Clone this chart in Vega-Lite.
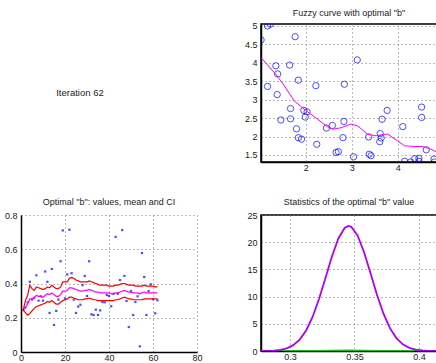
{
"$schema": "https://vega.github.io/schema/vega-lite/v6.json",
"padding": {"left": 4, "top": 8, "right": 0, "bottom": 0},
"background": "white",
"config": {
  "font": "Liberation Sans",
  "view": {"stroke": null},
  "axis": {"domainColor": "black", "domainWidth": 1.5, "ticks": false, "labelFontSize": 9, "labelColor": "#222", "labelPadding": 4, "gridColor": "#777", "gridDash": [1, 3], "gridWidth": 1, "title": null, "labelFlush": false, "labelOverlap": false, "labelBound": false, "format": ".10~g", "tickCount": 30},
  "axisX": {"labelPadding": 1.5},
  "title": {"fontSize": 9, "fontWeight": "normal", "color": "#222", "offset": 4, "frame": "group", "anchor": "middle"}
},
"datasets": {
  "fz": [
    {"x": 1.03, "y": 4.62}, {"x": 1.17, "y": 5.0}, {"x": 1.23, "y": 5.05}, {"x": 1.77, "y": 4.71},
    {"x": 1.35, "y": 3.92}, {"x": 1.65, "y": 3.94}, {"x": 1.39, "y": 3.70}, {"x": 1.17, "y": 3.36},
    {"x": 1.84, "y": 3.53}, {"x": 2.22, "y": 3.38}, {"x": 2.84, "y": 3.42}, {"x": 1.38, "y": 3.14},
    {"x": 3.12, "y": 4.08}, {"x": 1.67, "y": 2.76}, {"x": 1.46, "y": 2.45}, {"x": 1.67, "y": 2.48},
    {"x": 1.96, "y": 2.71}, {"x": 2.03, "y": 2.67}, {"x": 1.99, "y": 2.53}, {"x": 1.80, "y": 2.21},
    {"x": 1.84, "y": 1.97}, {"x": 1.91, "y": 1.93}, {"x": 2.24, "y": 1.79}, {"x": 2.45, "y": 2.23},
    {"x": 2.58, "y": 2.30}, {"x": 2.83, "y": 2.41}, {"x": 2.81, "y": 1.97}, {"x": 2.66, "y": 1.57},
    {"x": 2.71, "y": 1.59}, {"x": 3.04, "y": 1.45}, {"x": 3.37, "y": 1.99}, {"x": 3.38, "y": 1.52},
    {"x": 3.42, "y": 1.48}, {"x": 3.62, "y": 2.08}, {"x": 3.64, "y": 1.96}, {"x": 3.61, "y": 1.86},
    {"x": 3.66, "y": 2.47}, {"x": 3.77, "y": 2.71}, {"x": 4.11, "y": 2.27}, {"x": 4.15, "y": 1.33},
    {"x": 4.28, "y": 1.31}, {"x": 4.37, "y": 1.40}, {"x": 4.46, "y": 1.33}, {"x": 4.46, "y": 1.41},
    {"x": 4.52, "y": 2.80}, {"x": 4.52, "y": 2.52}, {"x": 4.62, "y": 1.64}, {"x": 4.79, "y": 1.39},
    {"x": 4.80, "y": 1.31}
  ],
  "fc": [
    {"x": 1.03, "y": 4.14}, {"x": 1.35, "y": 3.69}, {"x": 1.54, "y": 3.37}, {"x": 1.75, "y": 2.97},
    {"x": 2.01, "y": 2.70}, {"x": 2.26, "y": 2.47}, {"x": 2.48, "y": 2.26}, {"x": 2.59, "y": 2.20},
    {"x": 2.77, "y": 2.24}, {"x": 2.98, "y": 2.34}, {"x": 3.13, "y": 2.29}, {"x": 3.35, "y": 2.06},
    {"x": 3.53, "y": 2.02}, {"x": 3.78, "y": 2.07}, {"x": 4.0, "y": 1.88}, {"x": 4.15, "y": 1.75},
    {"x": 4.36, "y": 1.73}, {"x": 4.54, "y": 1.73}, {"x": 4.72, "y": 1.66}, {"x": 4.83, "y": 1.59},
    {"x": 4.86, "y": 1.56}
  ],
  "bv": [
    {"i": 1, "v": 0.245}, {"i": 2, "v": 0.26}, {"i": 3, "v": 0.29}, {"i": 4, "v": 0.41},
    {"i": 5, "v": 0.306}, {"i": 6, "v": 0.315}, {"i": 7, "v": 0.448}, {"i": 8, "v": 0.30},
    {"i": 9, "v": 0.325}, {"i": 10, "v": 0.30}, {"i": 11, "v": 0.47}, {"i": 12, "v": 0.41},
    {"i": 13, "v": 0.228}, {"i": 14, "v": 0.485}, {"i": 15, "v": 0.158}, {"i": 16, "v": 0.24},
    {"i": 17, "v": 0.306}, {"i": 18, "v": 0.53}, {"i": 19, "v": 0.71}, {"i": 20, "v": 0.313},
    {"i": 21, "v": 0.453}, {"i": 22, "v": 0.714}, {"i": 23, "v": 0.46}, {"i": 24, "v": 0.306},
    {"i": 25, "v": 0.228}, {"i": 26, "v": 0.265}, {"i": 27, "v": 0.276}, {"i": 28, "v": 0.39},
    {"i": 29, "v": 0.444}, {"i": 30, "v": 0.327}, {"i": 31, "v": 0.53}, {"i": 32, "v": 0.22},
    {"i": 33, "v": 0.216}, {"i": 34, "v": 0.247}, {"i": 35, "v": 0.216}, {"i": 36, "v": 0.243},
    {"i": 37, "v": 0.292}, {"i": 38, "v": 0.29}, {"i": 39, "v": 0.333}, {"i": 40, "v": 0.327},
    {"i": 41, "v": 0.267}, {"i": 42, "v": 0.34}, {"i": 43, "v": 0.672}, {"i": 44, "v": 0.34},
    {"i": 45, "v": 0.42}, {"i": 46, "v": 0.712}, {"i": 47, "v": 0.444}, {"i": 48, "v": 0.298},
    {"i": 49, "v": 0.146}, {"i": 50, "v": 0.356}, {"i": 51, "v": 0.216}, {"i": 52, "v": 0.292},
    {"i": 53, "v": 0.325}, {"i": 54, "v": 0.033}, {"i": 55, "v": 0.578}, {"i": 56, "v": 0.438},
    {"i": 57, "v": 0.216}, {"i": 58, "v": 0.356}, {"i": 59, "v": 0.395}, {"i": 60, "v": 0.308},
    {"i": 61, "v": 0.226}, {"i": 62, "v": 0.302}
  ],
  "bs": [
    {"i": 1, "m": 0.245, "lo": 0.245, "hi": 0.245}, {"i": 2, "m": 0.26, "lo": 0.23, "hi": 0.30},
    {"i": 3, "m": 0.28, "lo": 0.215, "hi": 0.33}, {"i": 4, "m": 0.31, "lo": 0.225, "hi": 0.39},
    {"i": 5, "m": 0.31, "lo": 0.24, "hi": 0.37}, {"i": 6, "m": 0.32, "lo": 0.255, "hi": 0.36},
    {"i": 7, "m": 0.33, "lo": 0.265, "hi": 0.38}, {"i": 8, "m": 0.325, "lo": 0.27, "hi": 0.375},
    {"i": 9, "m": 0.325, "lo": 0.275, "hi": 0.37}, {"i": 10, "m": 0.32, "lo": 0.28, "hi": 0.365},
    {"i": 11, "m": 0.33, "lo": 0.285, "hi": 0.37}, {"i": 12, "m": 0.34, "lo": 0.295, "hi": 0.38},
    {"i": 13, "m": 0.335, "lo": 0.29, "hi": 0.375}, {"i": 14, "m": 0.345, "lo": 0.30, "hi": 0.39},
    {"i": 15, "m": 0.335, "lo": 0.29, "hi": 0.38}, {"i": 16, "m": 0.325, "lo": 0.28, "hi": 0.37},
    {"i": 17, "m": 0.325, "lo": 0.28, "hi": 0.37}, {"i": 18, "m": 0.335, "lo": 0.29, "hi": 0.38},
    {"i": 19, "m": 0.355, "lo": 0.30, "hi": 0.41}, {"i": 20, "m": 0.355, "lo": 0.305, "hi": 0.41},
    {"i": 21, "m": 0.36, "lo": 0.31, "hi": 0.41}, {"i": 22, "m": 0.375, "lo": 0.32, "hi": 0.43},
    {"i": 23, "m": 0.375, "lo": 0.32, "hi": 0.435}, {"i": 24, "m": 0.37, "lo": 0.315, "hi": 0.43},
    {"i": 25, "m": 0.365, "lo": 0.31, "hi": 0.42}, {"i": 26, "m": 0.36, "lo": 0.305, "hi": 0.415},
    {"i": 27, "m": 0.355, "lo": 0.305, "hi": 0.41}, {"i": 28, "m": 0.355, "lo": 0.305, "hi": 0.41},
    {"i": 29, "m": 0.36, "lo": 0.31, "hi": 0.41}, {"i": 30, "m": 0.36, "lo": 0.31, "hi": 0.41},
    {"i": 31, "m": 0.365, "lo": 0.315, "hi": 0.415}, {"i": 32, "m": 0.36, "lo": 0.31, "hi": 0.41},
    {"i": 33, "m": 0.355, "lo": 0.305, "hi": 0.405}, {"i": 34, "m": 0.35, "lo": 0.305, "hi": 0.40},
    {"i": 35, "m": 0.35, "lo": 0.30, "hi": 0.395}, {"i": 36, "m": 0.345, "lo": 0.30, "hi": 0.39},
    {"i": 37, "m": 0.345, "lo": 0.30, "hi": 0.39}, {"i": 38, "m": 0.345, "lo": 0.30, "hi": 0.39},
    {"i": 39, "m": 0.345, "lo": 0.30, "hi": 0.39}, {"i": 40, "m": 0.345, "lo": 0.30, "hi": 0.385},
    {"i": 41, "m": 0.34, "lo": 0.30, "hi": 0.385}, {"i": 42, "m": 0.34, "lo": 0.30, "hi": 0.385},
    {"i": 43, "m": 0.345, "lo": 0.305, "hi": 0.39}, {"i": 44, "m": 0.345, "lo": 0.305, "hi": 0.39},
    {"i": 45, "m": 0.35, "lo": 0.31, "hi": 0.395}, {"i": 46, "m": 0.355, "lo": 0.315, "hi": 0.40},
    {"i": 47, "m": 0.36, "lo": 0.32, "hi": 0.40}, {"i": 48, "m": 0.355, "lo": 0.315, "hi": 0.395},
    {"i": 49, "m": 0.35, "lo": 0.31, "hi": 0.39}, {"i": 50, "m": 0.35, "lo": 0.31, "hi": 0.39},
    {"i": 51, "m": 0.345, "lo": 0.305, "hi": 0.39}, {"i": 52, "m": 0.345, "lo": 0.305, "hi": 0.385},
    {"i": 53, "m": 0.345, "lo": 0.305, "hi": 0.385}, {"i": 54, "m": 0.34, "lo": 0.305, "hi": 0.385},
    {"i": 55, "m": 0.345, "lo": 0.305, "hi": 0.385}, {"i": 56, "m": 0.35, "lo": 0.31, "hi": 0.39},
    {"i": 57, "m": 0.345, "lo": 0.31, "hi": 0.385}, {"i": 58, "m": 0.345, "lo": 0.31, "hi": 0.385},
    {"i": 59, "m": 0.345, "lo": 0.31, "hi": 0.385}, {"i": 60, "m": 0.345, "lo": 0.31, "hi": 0.385},
    {"i": 61, "m": 0.345, "lo": 0.31, "hi": 0.38}, {"i": 62, "m": 0.345, "lo": 0.31, "hi": 0.38}
  ],
  "gs": [
    {"x": 0.2775, "y": 0.011}, {"x": 0.2825, "y": 0.032}, {"x": 0.2875, "y": 0.086}, {"x": 0.2925, "y": 0.217},
    {"x": 0.2975, "y": 0.50}, {"x": 0.3025, "y": 1.07}, {"x": 0.3075, "y": 2.09}, {"x": 0.3125, "y": 3.77},
    {"x": 0.3175, "y": 6.26}, {"x": 0.3225, "y": 9.55}, {"x": 0.3275, "y": 13.43}, {"x": 0.3325, "y": 17.37},
    {"x": 0.3375, "y": 20.68}, {"x": 0.3425, "y": 22.66}, {"x": 0.3455, "y": 23.0}, {"x": 0.3475, "y": 22.85},
    {"x": 0.3525, "y": 21.20}, {"x": 0.3575, "y": 18.11}, {"x": 0.3625, "y": 14.23}, {"x": 0.3675, "y": 10.29},
    {"x": 0.3725, "y": 6.85}, {"x": 0.3775, "y": 4.20}, {"x": 0.3825, "y": 2.37}, {"x": 0.3875, "y": 1.23},
    {"x": 0.3925, "y": 0.59}, {"x": 0.3975, "y": 0.26}, {"x": 0.4025, "y": 0.104}, {"x": 0.4075, "y": 0.039},
    {"x": 0.4125, "y": 0.013}, {"x": 0.4175, "y": 0.004}
  ],
  "gr": [
    {"x": 0.2775, "y": 0.0}, {"x": 0.32, "y": 0.02}, {"x": 0.345, "y": 0.08}, {"x": 0.37, "y": 0.02}, {"x": 0.4175, "y": 0.0}
  ],
  "tx": [{"x": 0.2, "y": 0.5, "t": "Iteration 62"}]
},
"columns": 2,
"bounds": "flush",
"spacing": {"row": 53, "column": 64},
"concat": [
  {
    "width": 176, "height": 138,
    "data": {"name": "tx"},
    "mark": {"type": "text", "align": "left", "baseline": "middle", "fontSize": 9.5, "color": "#222"},
    "encoding": {
      "x": {"field": "x", "type": "quantitative", "scale": {"domain": [0, 1]}, "axis": null},
      "y": {"field": "y", "type": "quantitative", "scale": {"domain": [0, 1]}, "axis": null},
      "text": {"field": "t"}
    }
  },
  {
    "width": 176, "height": 138,
    "title": "Fuzzy curve with optimal \"b\"",
    "view": {"stroke": "black", "strokeWidth": 1.5},
    "layer": [
      {
        "data": {"name": "fz"},
        "mark": {"type": "point", "shape": "circle", "filled": false, "color": "#0000ff", "size": 40, "strokeWidth": 1, "clip": true},
        "encoding": {
          "x": {"field": "x", "type": "quantitative", "scale": {"domain": [1.028, 4.854], "nice": false, "zero": false}, "axis": {"values": [2, 3, 4], "grid": true, "labelOverlap": false, "tickCount": 30}},
          "y": {"field": "y", "type": "quantitative", "scale": {"domain": [1.31, 5.054], "nice": false, "zero": false}, "axis": {"values": [1.5, 2, 2.5, 3, 3.5, 4, 4.5, 5], "grid": true, "labelOverlap": false, "tickCount": 30}}
        }
      },
      {
        "data": {"name": "fc"},
        "mark": {"type": "line", "color": "#ff00ff", "strokeWidth": 1, "clip": true},
        "encoding": {
          "x": {"field": "x", "type": "quantitative"},
          "y": {"field": "y", "type": "quantitative"}
        }
      }
    ]
  },
  {
    "width": 176, "height": 137,
    "title": "Optimal \"b\": values, mean and CI",
    "layer": [
      {
        "data": {"name": "bv"},
        "mark": {"type": "square", "filled": true, "color": "#0000ff", "size": 5},
        "encoding": {
          "x": {"field": "i", "type": "quantitative", "scale": {"domain": [0, 80], "nice": false}, "axis": {"values": [0, 20, 40, 60, 80], "grid": true, "labelOverlap": false, "tickCount": 30}},
          "y": {"field": "v", "type": "quantitative", "scale": {"domain": [0, 0.8], "nice": false}, "axis": {"values": [0, 0.2, 0.4, 0.6, 0.8], "grid": true, "labelOverlap": false, "tickCount": 30}}
        }
      },
      {
        "data": {"name": "bs"},
        "mark": {"type": "line", "color": "#ff00ff", "strokeWidth": 1.2},
        "encoding": {"x": {"field": "i", "type": "quantitative"}, "y": {"field": "m", "type": "quantitative"}}
      },
      {
        "data": {"name": "bs"},
        "mark": {"type": "line", "color": "#ff0000", "strokeWidth": 1.2},
        "encoding": {"x": {"field": "i", "type": "quantitative"}, "y": {"field": "lo", "type": "quantitative"}}
      },
      {
        "data": {"name": "bs"},
        "mark": {"type": "line", "color": "#ff0000", "strokeWidth": 1.2},
        "encoding": {"x": {"field": "i", "type": "quantitative"}, "y": {"field": "hi", "type": "quantitative"}}
      }
    ]
  },
  {
    "width": 176, "height": 136,
    "title": "Statistics of the optimal \"b\" value",
    "view": {"stroke": "black", "strokeWidth": 1.5},
    "layer": [
      {
        "data": {"name": "gr"},
        "mark": {"type": "line", "color": "#00cc00", "strokeWidth": 2, "clip": true},
        "encoding": {
          "x": {"field": "x", "type": "quantitative", "scale": {"domain": [0.2775, 0.414], "nice": false, "zero": false}, "axis": {"values": [0.3, 0.35, 0.4], "grid": true, "labelOverlap": false, "tickCount": 30}},
          "y": {"field": "y", "type": "quantitative", "scale": {"domain": [0, 25], "nice": false}, "axis": {"values": [0, 5, 10, 15, 20, 25], "grid": true, "labelOverlap": false, "tickCount": 30}}
        }
      },
      {
        "data": {"name": "gs"},
        "mark": {"type": "line", "color": "#b000f0", "strokeWidth": 1.8, "clip": true},
        "encoding": {"x": {"field": "x", "type": "quantitative"}, "y": {"field": "y", "type": "quantitative"}}
      }
    ]
  }
]
}
